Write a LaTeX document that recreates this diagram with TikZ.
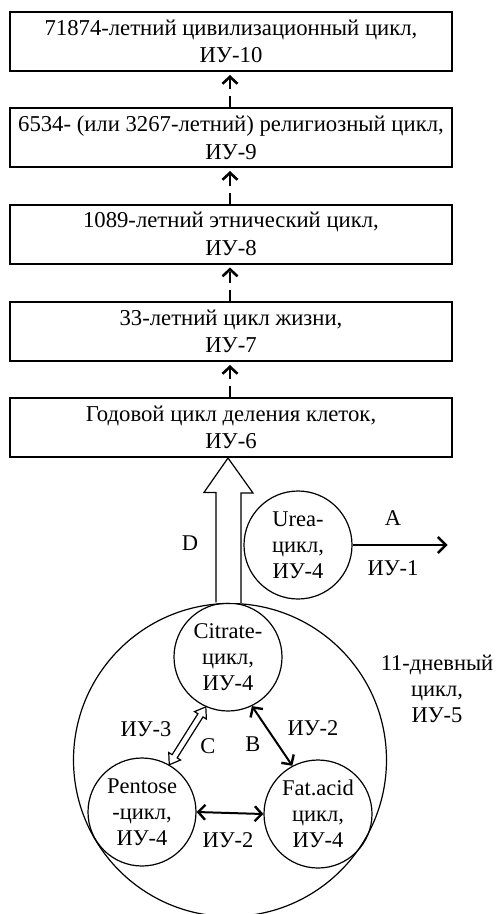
\documentclass[tikz,border=0pt]{standalone}
\usepackage{fontspec}
\setmainfont{Liberation Serif}
\usetikzlibrary{calc,arrows.meta}
\begin{document}
\begin{tikzpicture}[x=1pt,y=-1pt,
 box/.style={draw, line width=2pt, minimum width=442pt, minimum height=59pt, align=center, font=\fontsize{22.7}{27.5}\selectfont, inner sep=0pt},
 cyc/.style={draw, circle, line width=1.2pt, minimum size=108pt, align=center, font=\fontsize{22.5}{26}\selectfont, inner sep=0pt},
 lbl/.style={font=\fontsize{22.5}{26}\selectfont, align=center, inner sep=0pt},
 dasharrow/.style={line width=2.2pt, dash pattern=on 11pt off 7pt, -{Straight Barb[length=7pt,width=15pt,line width=2.6pt]}, shorten >=3pt},
 dbl/.style={line width=2pt, {Straight Barb[length=7pt,width=15pt,line width=2.4pt]}-{Straight Barb[length=7pt,width=15pt,line width=2.4pt]}},
 thinarrow/.style={line width=1.2pt, fill=white, line join=miter},
]
\useasboundingbox (0,0) rectangle (498,914);

\node[box] (b1) at (231,41.5) {71874-летний цивилизационный цикл,\\ИУ-10};
\node[box] (b2) at (231,137.5) {6534- (или 3267-летний) религиозный цикл,\\ИУ-9};
\node[box] (b3) at (231,234) {1089-летний этнический цикл,\\ИУ-8};
\node[box] (b4) at (231,331.5) {33-летний цикл жизни,\\ИУ-7};
\node[box] (b5) at (231,427.5) {Годовой цикл деления клеток,\\ИУ-6};

\draw[dasharrow] (b2.north -| 230,0) -- (b1.south -| 230,0);
\draw[dasharrow] (b3.north -| 230,0) -- (b2.south -| 230,0);
\draw[dasharrow] (b4.north -| 230,0) -- (b3.south -| 230,0);
\draw[dasharrow] (b5.north -| 230,0) -- (b4.south -| 230,0);

\node[draw, circle, line width=1.2pt, minimum size=313pt, inner sep=0pt] (big) at (230,760) {};
\node[cyc] (cit) at (228,657) {Citrate-\\цикл,\\ИУ-4};
\node[cyc] (pen) at (142,812) {Pentose\\-цикл,\\ИУ-4};
\node[cyc] (fat) at (318,814) {Fat.acid\\цикл,\\ИУ-4};
\node[cyc] (urea) at (298,545) {Urea-\\цикл,\\ИУ-4};

% big hollow arrow D
\coordinate (dtip) at (b5.south -| cit.north);
\draw[thinarrow] (cit.north) ++(-12,0) -- ++(0,-110) -- ++(-12,0) -- (dtip) -- ($(dtip)+(25,35)$) -- ++(-12,0) -- ++(0,110);
\node[lbl] (D) at (190,543) {D};

% arrow A
\draw[line width=2pt, -{Straight Barb[length=8pt,width=16pt,line width=2.4pt]}] (urea.east) -- ++(95,0) coordinate (aend);
\node[lbl] (A) at (393,518) {A};
\node[lbl] (iu1) at (393,568) {ИУ-1};

% pentose - fat
\draw[dbl] (pen.east) -- (fat.west);
\node[lbl] (iu2a) at (228,840) {ИУ-2};

% citrate - fat
\draw[dbl] (cit.-64) -- (fat.118);
\node[lbl] (iu2b) at (313,728) {ИУ-2};
\node[lbl] (B) at (253,744) {B};

% citrate - pentose hollow double arrow
\coordinate (ca) at (cit.-114);
\coordinate (cb) at (pen.60);
\draw[thinarrow]
  (ca) -- ($(ca)!10pt!(cb)!7pt!90:(cb)$) -- ($(ca)!10pt!(cb)!3pt!90:(cb)$)
  -- ($(cb)!10pt!(ca)!3pt!-90:(ca)$) -- ($(cb)!10pt!(ca)!7pt!-90:(ca)$)
  -- (cb) -- ($(cb)!10pt!(ca)!7pt!90:(ca)$) -- ($(cb)!10pt!(ca)!3pt!90:(ca)$)
  -- ($(ca)!10pt!(cb)!3pt!-90:(cb)$) -- ($(ca)!10pt!(cb)!7pt!-90:(cb)$) -- cycle;
\node[lbl] (iu3) at (146,729) {ИУ-3};
\node[lbl] (C) at (208,746) {C};

\node[lbl] (iu5) at (437,689) {11-дневный\\цикл,\\ИУ-5};
\end{tikzpicture}
\end{document}
